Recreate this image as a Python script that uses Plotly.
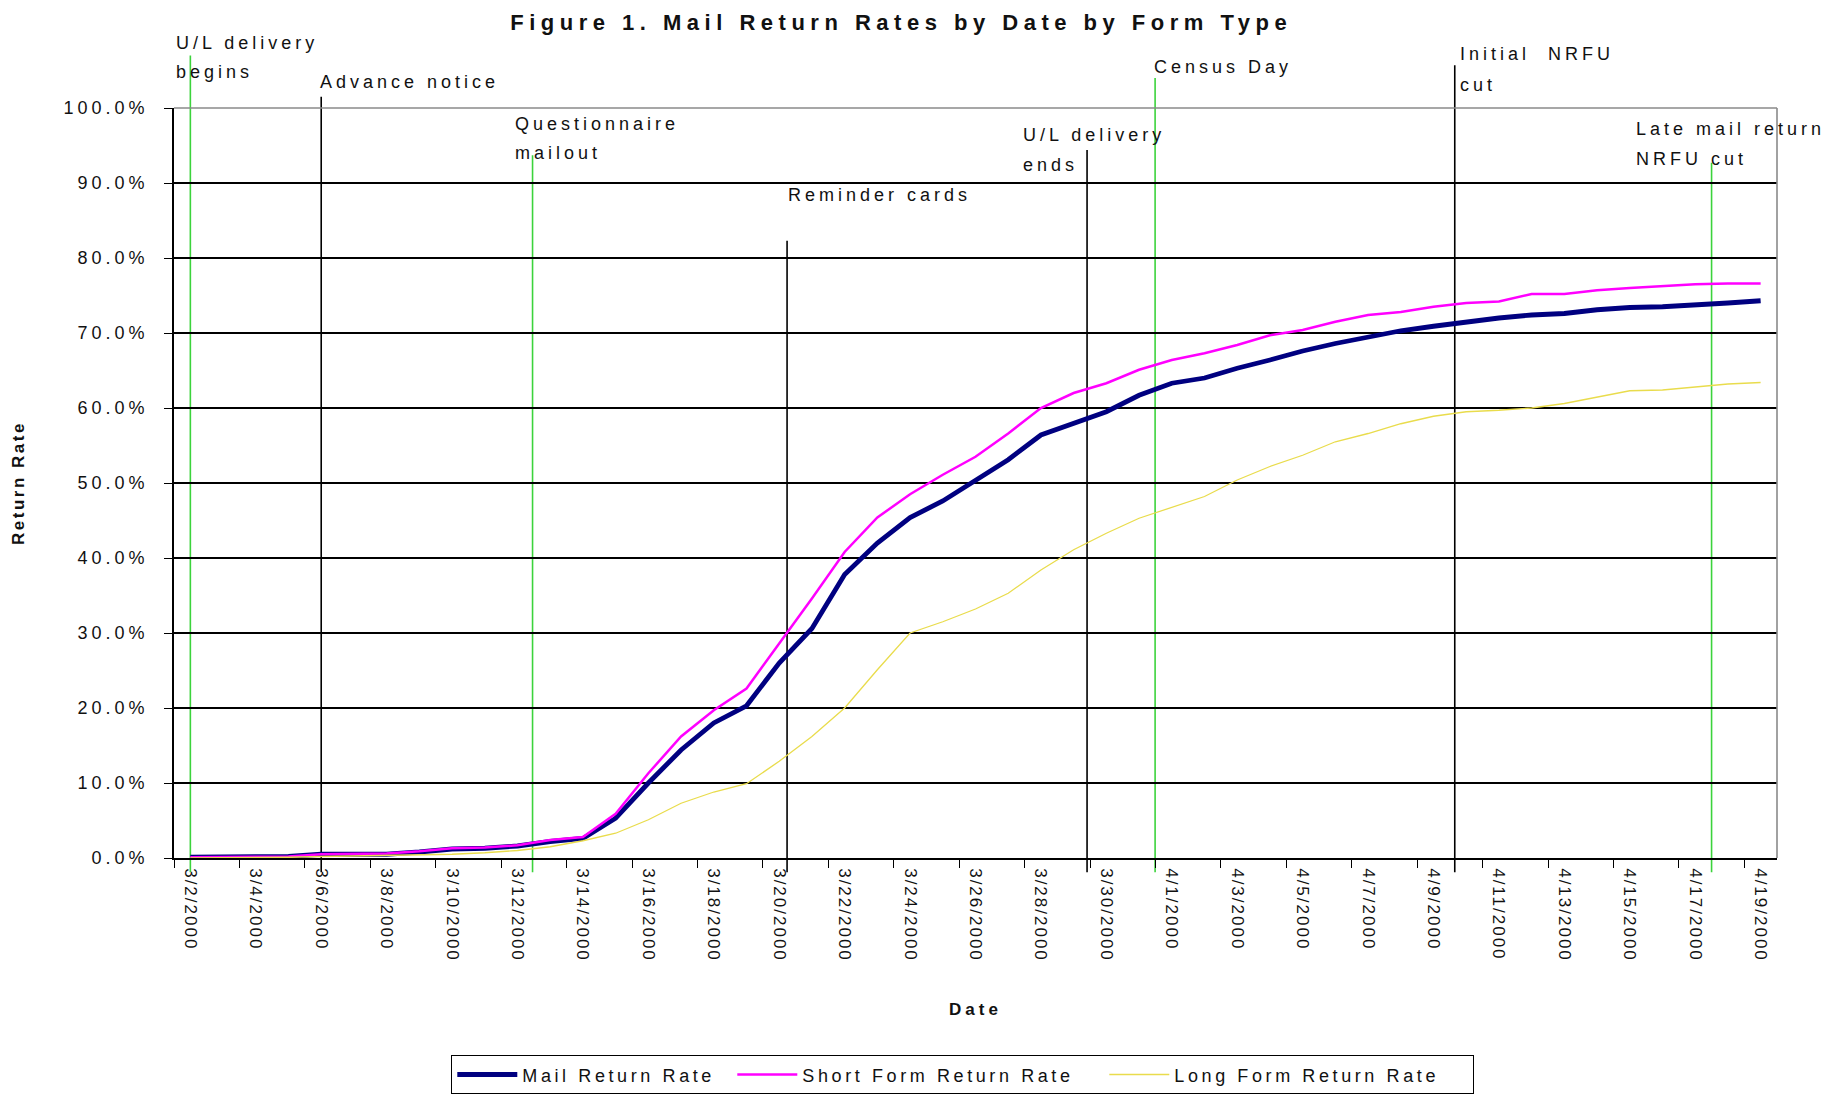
import plotly.graph_objects as go

# ---------------- data ----------------
dates = ["3/2/2000", "3/3/2000", "3/4/2000", "3/5/2000", "3/6/2000", "3/7/2000", "3/8/2000",
         "3/9/2000", "3/10/2000", "3/11/2000", "3/12/2000", "3/13/2000", "3/14/2000", "3/15/2000",
         "3/16/2000", "3/17/2000", "3/18/2000", "3/19/2000", "3/20/2000", "3/21/2000", "3/22/2000",
         "3/23/2000", "3/24/2000", "3/25/2000", "3/26/2000", "3/27/2000", "3/28/2000", "3/29/2000",
         "3/30/2000", "3/31/2000", "4/1/2000", "4/2/2000", "4/3/2000", "4/4/2000", "4/5/2000",
         "4/6/2000", "4/7/2000", "4/8/2000", "4/9/2000", "4/10/2000", "4/11/2000", "4/12/2000",
         "4/13/2000", "4/14/2000", "4/15/2000", "4/16/2000", "4/17/2000", "4/18/2000", "4/19/2000"]

mail_rate = [0.1, 0.1, 0.1, 0.2, 0.5, 0.5, 0.5, 0.8, 1.2, 1.3, 1.6, 2.2, 2.6, 5.3, 10.0, 14.4,
             18.0, 20.3, 26.0, 30.6, 37.8, 42.0, 45.4, 47.6, 50.4, 53.1, 56.4, 58.0, 59.5, 61.7,
             63.3, 64.0, 65.3, 66.4, 67.6, 68.6, 69.5, 70.3, 70.9, 71.5, 72.0, 72.4, 72.6, 73.1,
             73.4, 73.5, 73.7, 74.0, 74.3]

short_rate = [0.1, 0.1, 0.1, 0.2, 0.5, 0.6, 0.6, 0.9, 1.3, 1.4, 1.7, 2.4, 2.8, 5.9, 11.3, 16.2,
              19.7, 22.6, 28.6, 34.6, 40.8, 45.4, 48.5, 51.1, 53.5, 56.6, 60.0, 62.0, 63.3, 65.1,
              66.4, 67.3, 68.4, 69.7, 70.4, 71.5, 72.4, 72.8, 73.5, 74.0, 74.2, 75.2, 75.2, 75.7,
              76.0, 76.3, 76.5, 76.6, 76.6]

long_rate = [0.0, 0.0, 0.0, 0.1, 0.2, 0.3, 0.3, 0.4, 0.5, 0.7, 1.0, 1.5, 2.3, 3.3, 5.1, 7.3,
             8.8, 9.9, 12.9, 16.2, 20.0, 25.1, 30.0, 31.5, 33.2, 35.3, 38.4, 41.1, 43.3, 45.3,
             46.8, 48.2, 50.4, 52.2, 53.7, 55.5, 56.6, 57.9, 58.9, 59.5, 59.7, 60.0, 60.6, 61.5,
             62.3, 62.4, 62.8, 63.2, 63.4]

series_names = ["Mail Return Rate", "Short Form Return Rate", "Long Form Return Rate"]
series_colors = ["#000080", "#FF00FF", "#E9DC4C"]
series_widths = [4.8, 2.5, 1.3]
legend_widths = [205, 297, 293]

y_tick_vals = [0, 10, 20, 30, 40, 50, 60, 70, 80, 90, 100]
y_tick_text = ["0.0%", "10.0%", "20.0%", "30.0%", "40.0%", "50.0%", "60.0%", "70.0%",
               "80.0%", "90.0%", "100.0%"]

# event marker lines (x in category index units, y in percent)
event_x = [0.0, 4.0, 10.46, 18.24, 27.41, 29.49, 38.65, 46.5]
event_top = [107.0, 101.5, 93.7, 82.3, 94.4, 104.0, 105.7, 92.7]
event_color = ["#3CD33C", "#000000", "#3CD33C", "#000000", "#000000", "#3CD33C", "#000000", "#3CD33C"]
event_bottom = -1.9

# event label lines (x in category index units, y in percent)
label_text = ["U/L delivery", "begins", "Advance notice", "Questionnaire", "mailout",
              "Reminder cards", "U/L delivery", "ends", "Census Day",
              "Initial\u00a0 NRFU", "cut", "Late mail return", "NRFU cut"]
label_x = [-0.5, -0.5, 3.90, 9.86, 9.86, 18.21, 25.39, 25.39, 29.40, 38.75, 38.75, 44.13, 44.13]
label_y = [108.7, 104.8, 103.5, 97.9, 94.0, 88.4, 96.4, 92.4, 105.5, 107.2, 103.1, 97.2, 93.2]

FONT = "Liberation Sans, Arial, sans-serif"

fig = go.Figure()
for name, vals, col, w, lw in zip(series_names, [mail_rate, short_rate, long_rate],
                                  series_colors, series_widths, legend_widths):
    fig.add_trace(go.Scatter(x=dates, y=vals, mode="lines", name=name,
                             line=dict(color=col, width=w), legendwidth=lw))

shapes = []
for ex, et, ec in zip(event_x, event_top, event_color):
    shapes.append(dict(type="line", xref="x", yref="paper", x0=ex, x1=ex,
                       y0=event_bottom / 100.0, y1=et / 100.0,
                       line=dict(color=ec, width=1.6), layer="below"))
# gray plot border (top and right)
shapes.append(dict(type="line", xref="paper", yref="paper", x0=0, x1=1, y0=1, y1=1,
                   line=dict(color="#8a8a8a", width=1.6), layer="above"))
shapes.append(dict(type="line", xref="paper", yref="paper", x0=1, x1=1, y0=0, y1=1,
                   line=dict(color="#8a8a8a", width=1.6), layer="above"))

annotations = []
for t, lx, ly in zip(label_text, label_x, label_y):
    annotations.append(dict(text=t, x=lx, y=ly / 100.0, xref="x", yref="paper", xanchor="left",
                            yanchor="middle", align="left", showarrow=False,
                            font=dict(family=FONT, size=18, color="#111111")))

fig.update_layout(
    width=1843, height=1098,
    margin=dict(l=174, r=66, t=108, b=240, autoexpand=False),
    paper_bgcolor="white", plot_bgcolor="white",
    font=dict(family=FONT, color="#111111"),
    title=dict(text="Figure 1. Mail Return Rates by Date by Form Type",
               x=0.489, xanchor="center", xref="container", y=0.98, yanchor="middle",
               yref="container",
               font=dict(family=FONT, size=22, weight="bold", color="#111111")),
    xaxis=dict(type="category", categoryorder="array", categoryarray=dates,
               range=[-0.5, len(dates) - 0.5], tickmode="linear", tick0=0, dtick=2,
               tickson="boundaries", ticks="outside", ticklen=8, tickcolor="black", tickwidth=1.3,
               tickangle=90, ticklabelstandoff=5,
               tickfont=dict(family=FONT, size=17, color="#111111"),
               showline=True, linecolor="black", linewidth=1.6, showgrid=False, zeroline=False,
               title=dict(text="Date", standoff=60,
                          font=dict(family=FONT, size=17, weight="bold", color="#111111"))),
    yaxis=dict(range=[0, 100], tickmode="array", tickvals=y_tick_vals, ticktext=y_tick_text,
               ticks="outside", ticklen=8, tickcolor="black", tickwidth=1.3,
               ticklabelstandoff=12,
               tickfont=dict(family=FONT, size=18, color="#111111"),
               showline=True, linecolor="black", linewidth=1.6,
               showgrid=True, gridcolor="black", gridwidth=1.5, zeroline=False,
               title=dict(text="Return Rate", standoff=59,
                          font=dict(family=FONT, size=17, weight="bold", color="#111111"))),
    legend=dict(orientation="h", x=(451 - 174) / 1603.0, xanchor="left",
                y=(858 - 1055) / 750.0, yanchor="top", itemwidth=60,
                bordercolor="black", borderwidth=1.3, bgcolor="white",
                font=dict(family=FONT, size=18, color="#111111"), traceorder="normal"),
    shapes=shapes,
    annotations=annotations,
    showlegend=True,
)

css = ("body{margin:0;overflow:hidden}"
       "g.xtick text{letter-spacing:2px}"
       "g.ytick text{letter-spacing:4px}"
       "text.annotation-text{letter-spacing:4px}"
       "text.legendtext{letter-spacing:3.6px}"
       "text.gtitle{letter-spacing:5.5px}"
       "text.xtitle{letter-spacing:4px}"
       "text.ytitle{letter-spacing:2.5px}")
js = "var s=document.createElement('style');s.textContent='" + css + "';document.head.appendChild(s);"

fig.write_html("out.html", post_script=js, config={"displayModeBar": False})
